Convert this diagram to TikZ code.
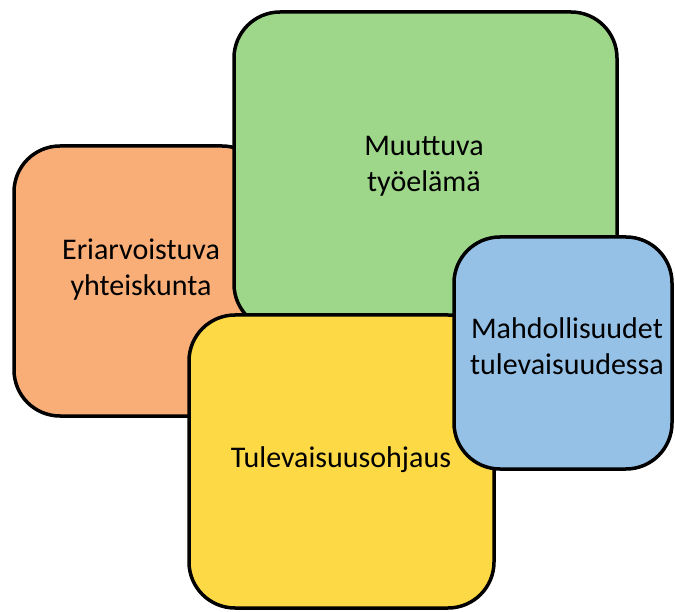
\documentclass[tikz,border=0pt]{standalone}
\usepackage{fontspec}
\setmainfont{Carlito}
\definecolor{cOrange}{HTML}{F9AE78}
\definecolor{cGreen}{HTML}{9ED78A}
\definecolor{cYellow}{HTML}{FED946}
\definecolor{cBlue}{HTML}{96C1E7}
\tikzset{
  box/.style={draw=black, line width=3.5pt, rounded corners=46pt},
  lbl/.style={align=center, font=\fontsize{30}{36}\selectfont, text=black, inner sep=0pt}
}
\begin{document}
\begin{tikzpicture}[x=1pt,y=-1pt]
\useasboundingbox (0,0) rectangle (675,612);
% boxes: drawn back to front
\path[box, fill=cOrange] (14,146) rectangle (268,416);
\coordinate (oc) at (141,270);
\path[box, fill=cGreen] (234,12) rectangle (617,330);
\coordinate (gc) at (424,166.5);
\path[box, fill=cYellow] (189,315) rectangle (494,608);
\coordinate (yc) at (341,460);
\path[box, fill=cBlue] (454,237) rectangle (672,469);
\coordinate (bc) at (567,346);
\node[lbl] (olbl) at (oc) {Eriarvoistuva\\yhteiskunta};
\node[lbl] (glbl) at (gc) {Muuttuva\\työelämä};
\node[lbl] (ylbl) at (yc) {Tulevaisuusohjaus};
\node[lbl] (blbl) at (bc) {Mahdollisuudet\\tulevaisuudessa};
\end{tikzpicture}
\end{document}
